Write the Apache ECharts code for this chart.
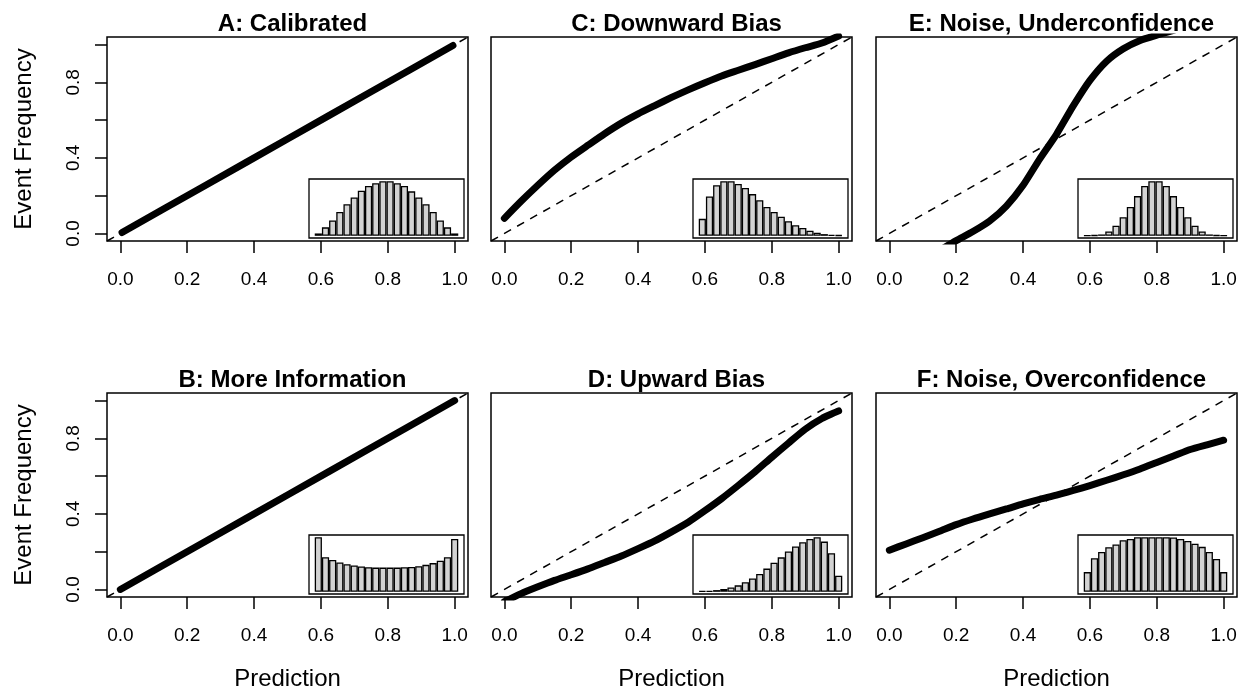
<!DOCTYPE html>
<html>
<head>
<meta charset="utf-8">
<title>Calibration curves</title>
<script src="https://cdn.jsdelivr.net/npm/echarts@6/dist/echarts.min.js"></script>
<style>
  html, body { margin: 0; padding: 0; background: #fff; }
  #chart { width: 1241px; height: 688px; }
</style>
</head>
<body>
<div id="chart"></div>
<script>
// ---- 数据 ----
const panelTitles = ['A: Calibrated', 'C: Downward Bias', 'E: Noise, Underconfidence',
                     'B: More Information', 'D: Upward Bias', 'F: Noise, Overconfidence'];
const xTicks = [0, 0.2, 0.4, 0.6, 0.8, 1.0];
const yTicks = [0, 0.2, 0.4, 0.6, 0.8, 1.0];
const yTickLabels = [0, 0.4, 0.8];

// 直方图 bin 中心 (20 bins)
const binCenters = [0.025, 0.075, 0.125, 0.175, 0.225, 0.275, 0.325, 0.375, 0.425, 0.475,
                    0.525, 0.575, 0.625, 0.675, 0.725, 0.775, 0.825, 0.875, 0.925, 0.975];

// 曲线 (预测 -> 事件频率)
const calibratedX = [0.005, 0.25, 0.5, 0.75, 0.995];
const calibratedY = [0.005, 0.25, 0.5, 0.75, 0.995];
const moreInfoX = [0.0, 0.25, 0.5, 0.75, 1.0];
const moreInfoY = [0.0, 0.25, 0.5, 0.75, 1.0];
const downwardX = [0.0, 0.05, 0.1, 0.15, 0.2, 0.25, 0.3, 0.35, 0.4, 0.45, 0.5,
                   0.55, 0.6, 0.65, 0.7, 0.75, 0.8, 0.85, 0.9, 0.95, 1.0];
const downwardY = [0.08, 0.17, 0.255, 0.335, 0.405, 0.467, 0.528, 0.584, 0.633, 0.677, 0.72,
                   0.76, 0.798, 0.834, 0.864, 0.894, 0.925, 0.956, 0.983, 1.008, 1.045];
const upwardX = [0.0, 0.05, 0.1, 0.15, 0.2, 0.25, 0.3, 0.35, 0.4, 0.45, 0.5,
                 0.55, 0.6, 0.65, 0.7, 0.75, 0.8, 0.85, 0.9, 0.95, 1.0];
const upwardY = [-0.065, -0.022, 0.014, 0.048, 0.078, 0.109, 0.143, 0.177, 0.216, 0.257, 0.305,
                 0.356, 0.417, 0.481, 0.551, 0.623, 0.700, 0.775, 0.848, 0.905, 0.945];
const underX = [0.15, 0.2, 0.25, 0.3, 0.35, 0.4, 0.45, 0.5, 0.55, 0.6, 0.65, 0.7, 0.75, 0.8, 0.85];
const underY = [-0.09, -0.038, 0.01, 0.066, 0.145, 0.255, 0.395, 0.525, 0.675, 0.81, 0.912, 0.978, 1.022, 1.05, 1.075];
const overX = [0.0, 0.05, 0.1, 0.15, 0.2, 0.25, 0.3, 0.35, 0.4, 0.45, 0.5,
               0.55, 0.6, 0.65, 0.7, 0.75, 0.8, 0.85, 0.9, 0.95, 1.0];
const overY = [0.208, 0.241, 0.274, 0.308, 0.343, 0.373, 0.40, 0.426, 0.453, 0.477, 0.499,
               0.524, 0.55, 0.578, 0.607, 0.638, 0.672, 0.706, 0.741, 0.766, 0.79];

// 预测分布直方图 (相对高度)
const histA = [7, 25, 45, 70, 93, 113, 133, 147, 155, 161, 161, 155, 147, 131, 113, 93, 70, 45, 25, 7];
const histB = [158, 100, 92, 85, 80, 76, 73, 71, 70, 70, 70, 70, 71, 72, 74, 78, 83, 90, 100, 153];
const histC = [50, 116, 149, 161, 161, 153, 141, 123, 105, 85, 70, 56, 43, 31, 23, 15, 9, 5, 3, 2];
const histD = [2, 3, 5, 8, 13, 19, 28, 39, 52, 68, 85, 101, 118, 133, 145, 155, 160, 147, 113, 47];
const histE = [1, 2, 4, 13, 30, 55, 85, 117, 147, 161, 161, 147, 117, 85, 55, 30, 13, 4, 2, 1];
const histF = [57, 97, 115, 129, 137, 149, 153, 158, 158, 158, 158, 158, 157, 153, 147, 139, 130, 115, 95, 57];

// ---- 布局 ----
const FONT = '"Liberation Sans", Arial, Helvetica, sans-serif';
const colLeft = [107, 491, 876];
const rowTop = [37, 393];
const PANEL_W = 361;
const PANEL_H = 204;

// 面板顺序: A C E / B D F
const panels = [
  { x: calibratedX, y: calibratedY, hist: histA },
  { x: downwardX,   y: downwardY,   hist: histC },
  { x: underX,      y: underY,      hist: histE },
  { x: moreInfoX,   y: moreInfoY,   hist: histB },
  { x: upwardX,     y: upwardY,     hist: histD },
  { x: overX,       y: overY,       hist: histF },
];

const grid = [], xAxis = [], yAxis = [], series = [], title = [];

panels.forEach((p, i) => {
  const row = Math.floor(i / 3), col = i % 3;
  const left = colLeft[col], top = rowTop[row];

  // 主图 (不让 v6 自动缩小网格)
  grid.push({ left: left, top: top, width: PANEL_W, height: PANEL_H, outerBoundsMode: 'none',
              show: true, borderColor: '#000', borderWidth: 1.5, backgroundColor: 'transparent' });

  title.push({
    text: panelTitles[i], left: left + PANEL_W / 2, top: top - 30, textAlign: 'center',
    textStyle: { fontFamily: FONT, fontSize: 24, fontWeight: 'bold', color: '#000' }
  });

  xAxis.push({
    gridIndex: i, type: 'value', min: -0.04, max: 1.04, position: 'bottom',
    axisLine: { show: false, onZero: false }, splitLine: { show: false },
    axisTick: { show: true, length: 12, customValues: xTicks, lineStyle: { color: '#000', width: 1.5 } },
    axisLabel: { customValues: xTicks, formatter: v => v.toFixed(1), margin: 29,
                 fontFamily: FONT, fontSize: 19, color: '#000' },
    name: row === 1 ? 'Prediction' : '', nameLocation: 'middle', nameGap: 70,
    nameTextStyle: { fontFamily: FONT, fontSize: 24, color: '#000' }
  });

  if (col === 0) {
    yAxis.push({
      gridIndex: i, type: 'value', min: -0.04, max: 1.04, position: 'left',
      axisLine: { show: false, onZero: false }, splitLine: { show: false },
      axisTick: { show: true, length: 12, customValues: yTicks, lineStyle: { color: '#000', width: 1.5 } },
      axisLabel: { customValues: yTickLabels, formatter: v => v.toFixed(1), rotate: 90, margin: 24,
                   fontFamily: FONT, fontSize: 19, color: '#000' },
      name: 'Event Frequency', nameLocation: 'middle', nameGap: 71, nameRotate: 90,
      nameTextStyle: { fontFamily: FONT, fontSize: 24, color: '#000' }
    });
  } else {
    yAxis.push({ gridIndex: i, type: 'value', min: -0.04, max: 1.04, show: false });
  }

  // 对角虚线
  series.push({
    type: 'line', xAxisIndex: i, yAxisIndex: i, symbol: 'none', silent: true, z: 2,
    data: [[-0.04, -0.04], [1.04, 1.04]],
    lineStyle: { color: '#000', width: 1.5, type: [8, 7] }
  });

  // 校准曲线
  series.push({
    type: 'line', xAxisIndex: i, yAxisIndex: i, symbol: 'none', silent: true, z: 3,
    smooth: 0.2, clip: true,
    data: p.x.map((v, k) => [v, p.y[k]]),
    lineStyle: { color: '#000', width: 7, cap: 'round', join: 'round' }
  });
});

// 插图直方图
panels.forEach((p, i) => {
  const row = Math.floor(i / 3), col = i % 3;
  const gi = 6 + i;
  grid.push({ left: colLeft[col] + 202, top: rowTop[row] + PANEL_H - 62, width: 155, height: 59,
              outerBoundsMode: 'none',
              show: true, borderColor: '#000', borderWidth: 1.3, backgroundColor: 'transparent' });
  xAxis.push({ gridIndex: gi, type: 'value', min: -0.04, max: 1.04, show: false });
  yAxis.push({ gridIndex: gi, type: 'value', show: false,
               min: v => -0.04 * v.max, max: v => 1.04 * v.max });
  series.push({
    type: 'bar', xAxisIndex: gi, yAxisIndex: gi, silent: true, barWidth: 7.18,
    data: binCenters.map((c, k) => [c, p.hist[k]]),
    itemStyle: { color: '#d3d3d3', borderColor: '#000', borderWidth: 1.3 }
  });
});

const myChart = echarts.init(document.getElementById('chart'));
myChart.setOption({
  animation: false,
  backgroundColor: '#fff',
  title: title,
  grid: grid,
  xAxis: xAxis,
  yAxis: yAxis,
  series: series
});
</script>
</body>
</html>
